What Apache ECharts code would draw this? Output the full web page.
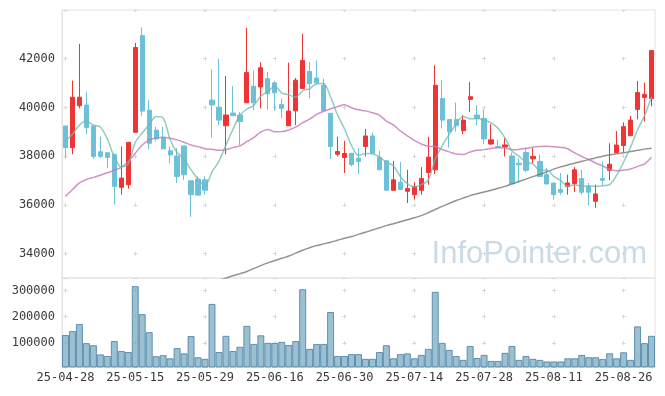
<!DOCTYPE html>
<html><head><meta charset="utf-8">
<script src="https://cdn.jsdelivr.net/npm/echarts@6/dist/echarts.min.js"></script>
<style>html,body{margin:0;padding:0;background:#fff}#c{width:665px;height:396px}</style>
</head><body><div id="c"></div>
<script>
const dates = ['25-04-28','25-04-29','25-04-30','25-05-02','25-05-07','25-05-08','25-05-09','25-05-12','25-05-13','25-05-14',
'25-05-15','25-05-16','25-05-19','25-05-20','25-05-21','25-05-22','25-05-23','25-05-26','25-05-27','25-05-28',
'25-05-29','25-05-30','25-06-02','25-06-04','25-06-05','25-06-09','25-06-10','25-06-11','25-06-12','25-06-13',
'25-06-16','25-06-17','25-06-18','25-06-19','25-06-20','25-06-23','25-06-24','25-06-25','25-06-26','25-06-27',
'25-06-30','25-07-01','25-07-02','25-07-03','25-07-04','25-07-07','25-07-08','25-07-09','25-07-10','25-07-11',
'25-07-14','25-07-15','25-07-16','25-07-17','25-07-18','25-07-21','25-07-22','25-07-23','25-07-24','25-07-25',
'25-07-28','25-07-29','25-07-30','25-07-31','25-08-01','25-08-04','25-08-05','25-08-06','25-08-07','25-08-08',
'25-08-11','25-08-12','25-08-13','25-08-14','25-08-18','25-08-19','25-08-20','25-08-21','25-08-22','25-08-25',
'25-08-26','25-08-27','25-08-28','25-08-29','25-09-01'];

const opens = [39240,38350,40070,40100,39240,38180,38140,38080,36720,36830,
38980,42950,39890,39070,38760,38220,38010,38420,36990,37060,
37030,40300,40010,39250,39770,39690,40190,40870,40840,41180,
41010,40120,39250,39860,40780,41480,41210,40910,39760,38080,
37950,38120,37920,38400,38830,37950,37810,36600,36930,36560,
36420,36600,37330,37440,40370,39510,39510,39050,40330,39690,
39550,38500,38400,38380,38010,37710,38150,37890,37780,37240,
36900,36630,36760,36870,37080,36760,36150,37080,37420,38150,
38440,38840,39920,40410,40370];
const closes = [38350,40420,40420,39170,37990,37990,37950,36760,37100,38570,
42460,39850,38530,38710,38300,38050,37170,37240,36420,36400,
36600,40100,39480,39690,39660,39420,41430,40190,41630,40570,
40600,39960,39850,41120,41930,40980,41010,39860,38400,38190,
38110,37650,37780,38830,38120,37440,36600,37030,36630,36670,
36760,37080,37960,40910,39480,39010,39250,39480,40440,39550,
38710,38670,38370,38460,36870,37650,37420,37990,37170,36860,
36420,36520,36900,37440,36520,36520,36450,37010,37670,38460,
39210,39480,40610,40540,42340];
const lows = [37900,38080,39960,38900,37880,37920,37510,36010,36420,36670,
38980,39660,38290,38600,38290,37710,36900,37030,35510,36390,
36420,38760,39280,38080,39650,38460,40190,39890,39960,39920,
39850,39550,39250,39280,40770,40370,40940,39860,37890,37990,
37310,37580,37270,37990,38120,37440,36600,36600,36620,36080,
36220,36420,36830,37270,39140,38350,39010,38910,39820,39280,
38490,38460,38360,37990,36860,36900,37350,37710,37140,36850,
36220,36420,36420,36530,36420,35990,35880,36800,37010,38150,
38160,38840,39510,39420,40050];
const highs = [39250,41100,42610,40640,39250,38800,38160,38090,38400,38580,
42650,43290,40300,39210,39210,38400,38330,38430,37000,37170,
37170,41570,42000,41290,40880,39820,43270,41520,41860,41460,
41080,40370,41840,41210,43020,41860,41930,41180,39760,38800,
38630,38130,38330,39120,38980,38220,37830,37810,37760,37440,
36940,37550,38800,41730,41120,39510,40200,39690,41050,40100,
39920,39310,38670,38740,38150,37920,38350,38330,38060,37510,
36900,37310,37240,37550,37440,36900,36830,37780,38530,39030,
39390,39650,41090,41020,42340];

const volumes = [130000,145000,172000,99000,91000,56000,50000,107000,69000,65000,
317000,210000,141000,49000,53000,41000,80000,60000,126000,45000,
39000,249000,65000,127000,69000,85000,165000,96000,129000,100000,
100000,104000,92000,107000,305000,77000,96000,96000,218000,50000,
50000,57000,57000,39000,39000,65000,91000,41000,57000,60000,
41000,54000,77000,295000,100000,73000,50000,35000,88000,42000,
54000,31000,31000,62000,88000,35000,50000,39000,35000,29000,
29000,29000,41000,41000,54000,45000,45000,38000,60000,41000,
64000,35000,163000,99000,127000];

const maShort = [38630,38900,39280,39440,39270,39198,38704,37972,37558,37674,
38568,38948,39302,39624,39570,38688,38152,37894,37436,37056,
36766,37352,37800,38454,39106,39670,39936,40078,40466,40648,
40884,40590,40522,40420,40692,40768,40978,40980,40436,39688,
39114,38442,38026,38112,38098,37964,37754,37604,37164,36874,
36738,36834,37020,37876,38438,38888,39322,39626,39532,39546,
39486,39370,39148,38752,38216,38004,37754,37678,37420,37418,
37172,36992,36774,36828,36760,36780,36766,36788,36834,37222,
37760,38366,39086,39660,40436];

const maMid = [36350,36630,36900,37040,37130,37220,37320,37420,37540,37780,
38120,38460,38660,38760,38780,38740,38670,38570,38460,38393,
38305,38289,38242,38268,38352,38423,38597,38769,38995,39095,
39002,39008,39074,39194,39376,39522,39714,39845,39944,40034,
40109,39987,39902,39859,39782,39683,39441,39283,39033,38838,
38646,38502,38408,38397,38275,38176,38088,38069,38171,38239,
38269,38320,38350,38331,38269,38279,38320,38368,38395,38405,
38388,38360,38307,38133,37985,37861,37721,37597,37459,37404,
37429,37470,37581,37685,37958];

const maLong = [null,null,null,null,null,null,null,null,null,null,
null,null,null,null,null,null,null,null,null,null,
32700,32800,32900,33000,33090,33180,33270,33390,33510,33620,
33720,33810,33900,34020,34140,34240,34330,34400,34470,34550,
34630,34700,34790,34880,34970,35060,35150,35230,35310,35390,
35470,35560,35680,35810,35940,36060,36180,36280,36380,36460,
36530,36600,36680,36760,36860,36960,37060,37160,37260,37360,
37470,37560,37640,37710,37790,37860,37930,38000,38050,38100,
38140,38190,38240,38290,38330];

const priceMin = 33000, priceMax = 44000;
const volMin = 7700, volMax = 348000;

const candleData = opens.map((o, i) => [o, closes[i], lows[i], highs[i]]);

// layout (styles only)
const GL = 62, GR = 10, PT = 10, PH = 268, VT = 278, VH = 89, W = 665;
const gridW = W - GL - GR;
const band = gridW / dates.length;
const hPeriod = band * 10;
const hStart = band / 2 - 2;
const pPeriod = PH * 2000 / (priceMax - priceMin);
const pStart = PH * (priceMax - 42000) / (priceMax - priceMin) - 2;
const vPeriod = VH * 100000 / (volMax - volMin);
const vStart = VH * (volMax - 300000) / (volMax - volMin) - 2;
const crossColor = '#d6d6d6';
const hSplit = {show: true, lineStyle: {color: crossColor, width: 1, type: [4, hPeriod - 4], dashOffset: hPeriod - hStart}};
const vSplitP = {show: true, interval: 9, alignWithLabel: true, lineStyle: {color: crossColor, width: 1, type: [4, pPeriod - 4], dashOffset: pPeriod - pStart}};
const vSplitV = {show: true, interval: 9, alignWithLabel: true, lineStyle: {color: crossColor, width: 1, type: [4, vPeriod - 4], dashOffset: vPeriod - vStart}};
const labelFont = {fontFamily: '"DejaVu Sans Mono", monospace', fontSize: 12, color: '#3a3a3a'};

const chart = echarts.init(document.getElementById('c'));
chart.setOption({
  animation: false,
  backgroundColor: '#ffffff',
  grid: [
    {left: GL, right: GR, top: PT, height: PH, show: true, borderColor: '#e3e3e3', borderWidth: 1},
    {left: GL, right: GR, top: VT, height: VH, show: true, borderColor: '#e3e3e3', borderWidth: 1}
  ],
  graphic: [{
    type: 'text', right: 18, top: 239, z: 0, silent: true,
    style: {text: 'InfoPointer.com', font: '31px "Liberation Sans", Arial, sans-serif', fill: '#cadbe5'}
  }],
  xAxis: [
    {type: 'category', gridIndex: 0, data: dates, boundaryGap: true,
     axisLine: {show: false}, axisTick: {show: false, interval: 9, alignWithLabel: true},
     axisLabel: {show: false, interval: 9}, splitLine: vSplitP},
    {type: 'category', gridIndex: 1, data: dates, boundaryGap: true,
     axisLine: {show: false}, axisTick: {show: false, interval: 9, alignWithLabel: true},
     axisLabel: Object.assign({interval: 9, margin: 5}, labelFont), splitLine: vSplitV}
  ],
  yAxis: [
    {type: 'value', gridIndex: 0, min: priceMin, max: priceMax, splitNumber: 5, scale: true,
     axisLine: {show: true, lineStyle: {color: '#e3e3e3'}}, axisTick: {show: false},
     axisLabel: Object.assign({showMinLabel: false, showMaxLabel: false, margin: 7, formatter: v => String(v)}, labelFont),
     splitLine: hSplit},
    {type: 'value', gridIndex: 1, min: volMin, max: volMax, splitNumber: 3, scale: true,
     axisLine: {show: true, lineStyle: {color: '#e3e3e3'}}, axisTick: {show: false},
     axisLabel: Object.assign({showMinLabel: false, showMaxLabel: false, margin: 7, formatter: v => String(v)}, labelFont),
     splitLine: hSplit}
  ],
  series: [
    {type: 'bar', name: 'volume', xAxisIndex: 1, yAxisIndex: 1, data: volumes, barCategoryGap: '0%',
     itemStyle: {color: 'rgba(112,165,190,0.7)', borderColor: 'rgba(70,125,160,0.8)', borderWidth: 1}},
    {type: 'candlestick', name: 'price', xAxisIndex: 0, yAxisIndex: 0, data: candleData, barWidth: '68%',
     itemStyle: {color: '#ee3434', color0: '#6cc1d8', borderColor: '#ee3434', borderColor0: '#6cc1d8', borderWidth: 1}},
    {type: 'line', name: 'maLong', xAxisIndex: 0, yAxisIndex: 0, data: maLong, showSymbol: false, smooth: 0.3,
     lineStyle: {color: 'rgba(120,120,120,0.8)', width: 1.5}},
    {type: 'line', name: 'maMid', xAxisIndex: 0, yAxisIndex: 0, data: maMid, showSymbol: false, smooth: 0.3,
     lineStyle: {color: 'rgba(195,120,185,0.8)', width: 1.5}},
    {type: 'line', name: 'maShort', xAxisIndex: 0, yAxisIndex: 0, data: maShort, showSymbol: false, smooth: 0.3,
     lineStyle: {color: 'rgba(110,185,170,0.75)', width: 1.5}}
  ]
});
</script>
</body></html>
